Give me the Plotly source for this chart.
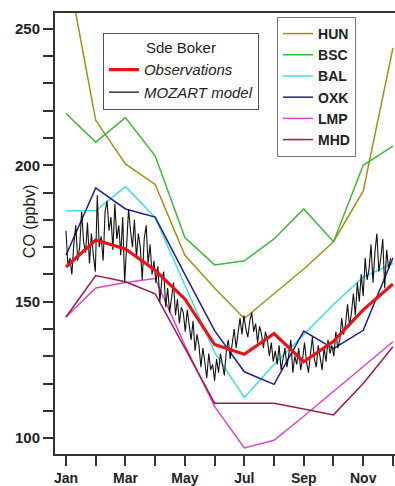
import plotly.graph_objects as go

# Monthly axis: numeric months with labels on odd months
months = list(range(1, 13))
month_labels = ["Jan", "", "Mar", "", "May", "", "Jul", "", "Sep", "", "Nov", ""]

# Monthly mean CO (ppbv) at the surface stations
hun = [275, 216.5, 200.5, 193, 167, 155, 143.8, 153, 162, 172, 190.5, 243]
bsc = [219, 208.5, 217.5, 203.5, 173.5, 163.5, 165, 173, 184, 172, 200, 207]
bal = [183.3, 183.3, 192.2, 180.9, 156, 131.4, 114.9, 127, 138, 149, 159, 164]
oxk = [167, 191.7, 184, 181, 160, 139.4, 124.3, 119.7, 139.2, 132.8, 139.5, 166]
lmp = [144.4, 155, 157, 158.5, 134, 111.6, 96.4, 99.2, 108, 117, 126, 135.3]
mhd = [144.4, 159.6, 157.3, 152.9, 133, 112.8, 112.8, 112.8, 110.7, 108.5, 120, 133.5]

# Sde Boker monthly observations
obs = [162.7, 172.6, 169.3, 161.5, 151, 134.3, 130.7, 138.3, 128, 135.5, 147, 156.5]

# MOZART model at Sde Boker, every second day from day-of-year 15 to 347
model_days = list(range(15, 348, 2))
model_co = [
    # Jan
    176, 163, 166, 160, 171, 178, 165, 170, 183, 172, 168, 179, 164, 175, 167, 161,
    # Feb
    189, 170, 174, 165, 183, 187, 176, 181, 169, 186, 173, 178, 167, 181, 157,
    # Mar
    172, 184, 176, 170, 180, 166, 175, 170, 158, 173, 178, 164, 171, 160, 165,
    # Apr
    157, 163, 150, 158, 161, 148, 155, 146, 152, 157, 145, 151, 142, 148, 146,
    # May
    139, 147, 141, 136, 143, 132, 138, 134, 126, 133, 128, 122, 131, 125, 127,
    # Jun
    121, 129, 124, 131, 127, 123, 132, 136, 129, 134, 140, 133, 139, 144, 138,
    # Jul
    145, 140, 137, 143, 146, 139, 142, 135, 141, 138, 133, 139, 136, 130, 135, 128,
    # Aug
    132, 127, 134, 125, 129, 133, 126, 131, 136, 124, 130, 127, 133, 125, 129,
    # Sep
    135, 128, 124, 132, 137, 129, 126, 134, 130, 125, 133, 128, 136, 131, 134,
    # Oct
    130, 139, 133, 136, 144, 138, 142, 149, 141, 146, 153, 145, 157, 150, 160,
    # Nov
    152, 166, 158, 162, 171, 157, 168, 175, 161, 166, 173, 155, 169, 162, 166,
]
# day-of-year -> month units (mid-January = 1)
model_x = [1 + (d - 15) / 30.4 for d in model_days]

FONT = "Liberation Sans, Arial, sans-serif"
AXIS = "#333333"

stations = [
    ("HUN", hun, "#A39113"),
    ("BSC", bsc, "#3FB83A"),
    ("BAL", bal, "#3EE0E0"),
    ("OXK", oxk, "#1F1F95"),
    ("LMP", lmp, "#DD44CC"),
    ("MHD", mhd, "#9E1C4C"),
]

fig = go.Figure()
for name, vals, color in stations:
    fig.add_trace(go.Scatter(
        x=months, y=vals, mode="lines", name=name,
        line=dict(color=color, width=1.5), legend="legend2",
    ))

fig.add_trace(go.Scatter(
    x=model_x, y=model_co, mode="lines", name="MOZART model",
    line=dict(color="#111111", width=1.1), legend="legend", legendrank=2,
))
fig.add_trace(go.Scatter(
    x=months, y=obs, mode="lines", name="Observations",
    line=dict(color="#E8141A", width=3.2), legend="legend", legendrank=1,
))

fig.update_layout(
    width=395, height=486,
    margin=dict(l=55, r=0, t=13, b=30),
    plot_bgcolor="white", paper_bgcolor="white",
    font=dict(family=FONT, color="#222222"),
    showlegend=True,
    legend=dict(
        x=0.141, y=0.955, xanchor="left", yanchor="top",
        bgcolor="white", bordercolor="#555555", borderwidth=1,
        font=dict(family=FONT, size=15, color="#222222", style="italic"),
        title=dict(text="Sde Boker", side="top center",
                   font=dict(family=FONT, size=15, color="#222222", style="normal")),
        itemwidth=30, tracegroupgap=0, traceorder="normal",
    ),
    legend2=dict(
        x=0.653, y=0.991, xanchor="left", yanchor="top",
        bgcolor="white", bordercolor="#777777", borderwidth=1,
        font=dict(family=FONT, size=14, color="#222222", weight="bold"),
        itemwidth=30, tracegroupgap=0, traceorder="normal",
    ),
    xaxis=dict(
        range=[0.63, 12.07], tickmode="array", tickvals=months, ticktext=month_labels,
        ticks="outside", ticklen=10, tickwidth=1.5, tickcolor=AXIS,
        showline=True, linecolor=AXIS, linewidth=2, mirror=True,
        showgrid=False, zeroline=False,
        tickfont=dict(family=FONT, size=14, color="#222222", weight="bold"),
    ),
    yaxis=dict(
        range=[94.16, 255.84], tickmode="array",
        tickvals=list(range(100, 251, 10)),
        ticktext=[str(v) if v % 50 == 0 else "" for v in range(100, 251, 10)],
        ticks="outside", ticklen=10, tickwidth=1.5, tickcolor=AXIS,
        showline=True, linecolor=AXIS, linewidth=2, mirror=False,
        showgrid=False, zeroline=False,
        tickfont=dict(family=FONT, size=15, color="#222222", weight="bold"),
    ),
    annotations=[dict(
        text="CO (ppbv)", xref="paper", yref="paper",
        x=-0.0765, y=0.528, xanchor="center", yanchor="middle",
        textangle=-90, showarrow=False,
        font=dict(family=FONT, size=16, color="#222222"),
    )],
)

fig.write_html("out.html")
